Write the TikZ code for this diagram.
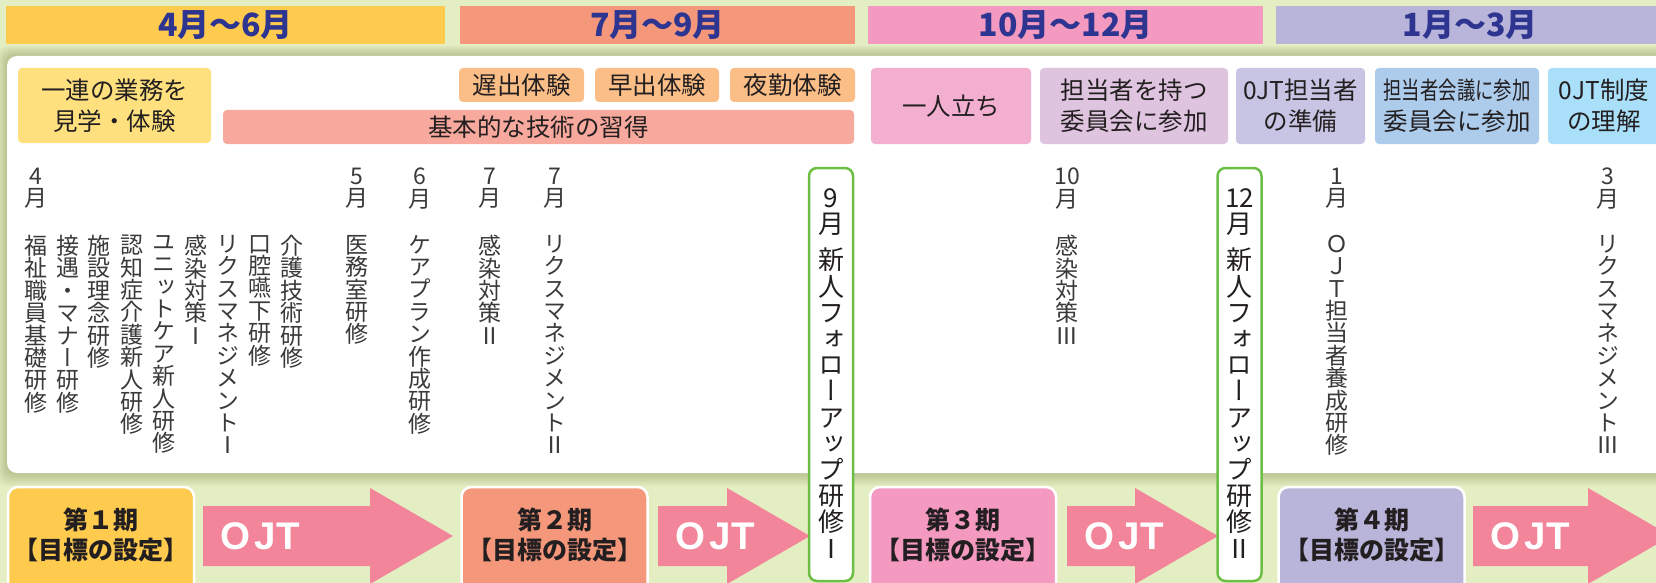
\documentclass[tikz,border=0pt]{standalone}
\usepackage{fontspec}
\usepackage{graphicx}
\setmainfont{Noto Sans CJK JP}
\newfontfamily\jpv[RawFeature=+vert]{Noto Sans CJK JP}
\newfontfamily\ojtfont{Liberation Sans}
\usepackage{tikz}
\usetikzlibrary{positioning}

\definecolor{bggreen}{HTML}{E4EEC3}
\definecolor{panelshadow}{HTML}{7F8A4A}
\definecolor{hdtext}{HTML}{2D3590}
\definecolor{qyellow}{HTML}{FECB4F}
\definecolor{qsalmon}{HTML}{F5977A}
\definecolor{qpink}{HTML}{F49AC1}
\definecolor{qlav}{HTML}{B9B5DA}
\definecolor{tbyellow}{HTML}{FEE07E}
\definecolor{tborange}{HTML}{FBBE86}
\definecolor{tbsalmon}{HTML}{F8A99D}
\definecolor{tbpink}{HTML}{F3AFD0}
\definecolor{tbmauve}{HTML}{DFC4DF}
\definecolor{tblav}{HTML}{C8C4E3}
\definecolor{tbblue}{HTML}{ADCCEC}
\definecolor{tbcyan}{HTML}{A9DFF8}
\definecolor{ojtpink}{HTML}{F28599}
\definecolor{followgreen}{HTML}{6DBE45}
\definecolor{inkdark}{HTML}{231F20}
\definecolor{inklist}{HTML}{3A3A3A}

% vertical (tategaki) stacking, one character per line
\def\tatechar#1{\ifx\relax#1\else\hbox to 0pt{\hss#1\hss}\expandafter\tatechar\fi}
\newcommand\tate[1]{\vbox{\lineskiplimit=-\maxdimen\expandafter\tatechar#1\relax}}

\begin{document}
\begin{tikzpicture}[x=1pt, y=-1pt,
    hdbar/.style={rectangle, minimum height=38pt, inner sep=0pt, text=hdtext,
      font=\bfseries\fontsize{32}{32}\selectfont},
    topbox/.style={rectangle, rounded corners=4pt, inner sep=0pt, align=center,
      text=inkdark, font=\fontsize{24.5}{31}\selectfont},
    tatelist/.style={inner sep=0pt, anchor=north, text=inklist,
      font=\jpv\fontsize{23}{22.4}\selectfont},
    followbox/.style={draw=followgreen, line width=2.5pt, fill=white, rounded corners=8pt,
      minimum width=44pt, minimum height=413pt},
    followtxt/.style={inner sep=0pt, anchor=north, text=inkdark,
      font=\jpv\fontsize{26}{26.2}\selectfont},
    periodbox/.style={draw=white, line width=2.5pt, rounded corners=10pt,
      minimum width=186pt, minimum height=113pt},
    periodtxt/.style={align=center, inner sep=0pt, text=inkdark,
      font=\bfseries\fontsize{25}{30}\selectfont},
    ojtarrow/.style={fill=ojtpink},
    ojttext/.style={inner sep=0pt, text=white, font=\ojtfont\bfseries\fontsize{38.5}{38.5}\selectfont}
  ]
  % Frame and background
  \useasboundingbox (0,0) rectangle (1656,583);
  \clip (0,0) rectangle (1656,583);
  \fill[bggreen] (0,0) rectangle (1656,583);

  % Soft shadow and white panel
  \foreach \i in {1,...,10} {
    \fill[panelshadow, opacity=0.045, rounded corners=10pt] (7-\i,56-\i) rectangle (1720,473+1.3*\i);
  }
  \fill[white, rounded corners=10pt] (7,56) rectangle (1720,473);

  % Quarter headers
  \foreach \x/\w/\c/\q [count=\i] in {225.5/439/qyellow/4月～6月, 657.5/395/qsalmon/7月～9月,
      1065.5/395/qpink/10月～12月, 1470/388/qlav/1月～3月} {
    \node[hdbar, fill=\c, minimum width=\w pt] (quarter\i) at (\x,25) {\q};
  }

  % Goals of each stage
  \node[topbox, fill=tbyellow, minimum width=193pt, minimum height=75pt] (kengaku) at (114.5,105.5) {一連の業務を\\見学・体験};
  \node[topbox, fill=tborange, minimum width=125pt, minimum height=34pt] (osode) at (521.5,85) {遅出体験};
  \node[topbox, fill=tborange, minimum width=124pt, minimum height=34pt] (hayade) at (657,85) {早出体験};
  \node[topbox, fill=tborange, minimum width=125pt, minimum height=34pt] (yakin) at (792.5,85) {夜勤体験};
  \node[topbox, fill=tbsalmon, minimum width=631pt, minimum height=34pt] (kihon) at (538.5,127) {基本的な技術の習得};
  \node[topbox, fill=tbpink, minimum width=160pt, minimum height=76pt] (hitoridachi) at (951,106) {一人立ち};
  \node[topbox, fill=tbmauve, minimum width=188pt, minimum height=76pt] (iinkai) at (1134,106) {担当者を持つ\\委員会に参加};
  \node[topbox, fill=tblav, minimum width=129pt, minimum height=76pt] (junbi) at (1300.5,106) {0JT担当者\\の準備};
  \node[topbox, fill=tbblue, minimum width=164pt, minimum height=76pt] (kaigi) at (1457,106) {\scalebox{0.75}[1]{担当者会議に参加}\\委員会に参加};
  \node[topbox, fill=tbcyan, minimum width=112pt, minimum height=76pt] (seido) at (1604,106) {0JT制度\\の理解};

  % Training calendar (vertical text)
  \foreach \x/\mon [count=\i] in {36/4月, 357/5月, 420/6月, 490/7月, 555/7月,
      1067/{10}月, 1337/1月, 1608/3月} {
    \node[tatelist] (month\i) at (\x,168) {\tate{\mon}};
  }
  \foreach \x/\kname [count=\i] in {36/福祉職員基礎研修, 67.5/接遇・マナー研修, 99/施設理念研修,
      132/認知症介護新人研修, 164/ユニットケア新人研修, 196/感染対策Ⅰ,
      227.5/リクスマネジメントⅠ, 260/口腔嚥下研修, 292/介護技術研修,
      357/医務室研修, 420/ケアプラン作成研修, 490/感染対策Ⅱ, 555/リクスマネジメントⅡ,
      1067/感染対策Ⅲ, 1337/ＯＪＴ担当者養成研修, 1608/リクスマネジメントⅢ} {
    \node[tatelist] (course\i) at (\x,235) {\tate{\kname}};
  }

  % Stages and OJT arrows
  \foreach \x/\c/\k [count=\i] in {101/qyellow/１, 554.5/qsalmon/２, 963/qpink/３, 1371.5/qlav/４} {
    \node[periodbox, fill=\c] (period\i) at (\x,543.5) {};
    \node[periodtxt] (goal\i) at (\x,535) {第\k 期\\【目標の設定】};
  }
  \foreach \s/\h [count=\i] in {203/370, 658/727, 1067/1135, 1473/1588} {
    \fill[ojtarrow] (\s,506) -- (\h,506) -- (\h,488) -- (\h+83,536) -- (\h,584) -- (\h,566) -- (\s,566) -- cycle;
    \node[ojttext, anchor=west] (ojt\i) at (\s+17,536) {O\kern4pt J\kern1pt T};
  }

  % Follow-up training
  \foreach \x/\mon/\rom [count=\i] in {831/9月/Ⅰ, 1239.5/{12}月/Ⅱ} {
    \node[followbox] (follow\i) at (\x,374.5) {};
    \node[followtxt] (followmon\i) at (\x,188) {\tate{\mon}};
    \node[followtxt] (followname\i) at (\x,248) {\tate{新人フォローアップ研修\rom}};
  }
\end{tikzpicture}
\end{document}
